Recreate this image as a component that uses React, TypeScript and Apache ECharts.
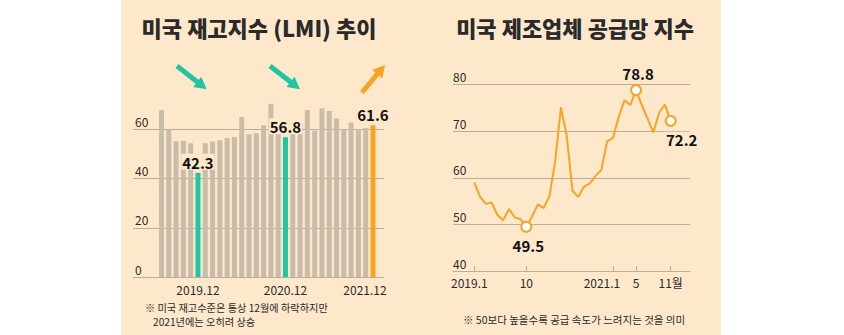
import React, { useEffect, useRef } from "react";
import * as echarts from "echarts";

// ---------- data ----------
const barMonths = [
  "2019.7", "2019.8", "2019.9", "2019.10", "2019.11", "2019.12",
  "2020.1", "2020.2", "2020.3", "2020.4", "2020.5", "2020.6",
  "2020.7", "2020.8", "2020.9", "2020.10", "2020.11", "2020.12",
  "2021.1", "2021.2", "2021.3", "2021.4", "2021.5", "2021.6",
  "2021.7", "2021.8", "2021.9", "2021.10", "2021.11", "2021.12",
];
const barValues = [
  67.7, 60.0, 55.1, 55.3, 54.3, 42.3,
  54.3, 55.0, 55.5, 56.4, 56.9, 65.0,
  58.0, 58.4, 61.6, 70.4, 62.0, 56.8,
  60.3, 62.4, 67.8, 59.4, 68.5, 67.4,
  64.4, 60.1, 62.7, 60.1, 60.5, 61.6,
];
const barHighlights: Record<number, string> = { 5: "teal", 17: "teal", 29: "orange" };
const barTickLabels = [5, 17, 29];

const lineMonths = [
  "2019.1", "2019.2", "2019.3", "2019.4", "2019.5", "2019.6", "2019.7", "2019.8", "2019.9", "2019.10", "2019.11", "2019.12",
  "2020.1", "2020.2", "2020.3", "2020.4", "2020.5", "2020.6", "2020.7", "2020.8", "2020.9", "2020.10", "2020.11", "2020.12",
  "2021.1", "2021.2", "2021.3", "2021.4", "2021.5", "2021.6", "2021.7", "2021.8", "2021.9", "2021.10", "2021.11",
];
const lineValues = [
  59.0, 55.9, 54.4, 54.7, 52.0, 50.9, 53.3, 51.5, 51.1, 49.5, 51.7, 54.3,
  53.5, 56.0, 63.5, 75.1, 69.0, 57.2, 55.9, 58.1, 58.8, 60.4, 61.7, 67.8,
  68.5, 73.1, 76.6, 75.6, 78.8, 75.6, 72.7, 69.7, 74.0, 75.7, 72.2,
];
const lineTickIdx = [0, 9, 24, 28, 34];
const lineTickText: Record<number, string> = { 0: "2019.1", 9: "10", 24: "2021.1", 28: "5", 34: "11월" };
const lineMarked: Record<number, string> = { 9: "bottom", 28: "top", 34: "right" };

// ---------- styles ----------
const BG = "#fee8cb";
const GRAY_BAR = "#c9bca9";
const GRID = "#b9ae9d";
const TEAL = "#1ec6a4";
const ORANGE = "#f7a521";
const TXT = "#2a2a2a";
const FONT = "'Noto Sans CJK KR', 'Noto Sans', sans-serif";

function arrow(x1: number, y1: number, x2: number, y2: number, color: string) {
  const dx = x2 - x1, dy = y2 - y1;
  const len = Math.sqrt(dx * dx + dy * dy);
  const ux = dx / len, uy = dy / len;
  const hl = 12, hw = 6.5;
  const bx = x2 - ux * hl, by = y2 - uy * hl;
  const nx = -uy, ny = ux;
  return [
    { type: "line", shape: { x1, y1, x2: bx + ux, y2: by + uy }, style: { stroke: color, lineWidth: 5 } },
    {
      type: "polygon",
      shape: { points: [[x2, y2], [bx + nx * hw, by + ny * hw], [bx - nx * hw, by - ny * hw]] },
      style: { fill: color },
    },
  ];
}

function txt(x: number, y: number, text: string, size: number, weight: any, align = "left") {
  return {
    type: "text",
    x,
    y,
    style: {
      text,
      fontSize: size,
      fontWeight: weight,
      fontFamily: FONT,
      fill: TXT,
      align,
      textAlign: align,
      verticalAlign: "middle",
      textVerticalAlign: "middle",
    },
  };
}

export default function App() {
  const ref = useRef<HTMLDivElement>(null);
  useEffect(() => {
    if (!ref.current) return;
    const chart = echarts.init(ref.current, undefined, { renderer: "svg" });

    const barData = barValues.map((v, i) => {
      const h = barHighlights[i];
      return {
        value: [i, v],
        itemStyle: { color: h === "teal" ? TEAL : h === "orange" ? ORANGE : GRAY_BAR },
        label: {
          show: !!h,
          position: "top",
          distance: 3,
          formatter: v.toFixed(1),
          fontSize: 15,
          fontWeight: "bold",
          fontFamily: FONT,
          color: "#111",
          backgroundColor: BG,
          padding: [1, 1, 0, 1],
        },
      };
    });

    const lineData = lineValues.map((v, i) => {
      const m = lineMarked[i];
      if (!m) return { value: [i, v], symbol: "none" };
      return {
        value: [i, v],
        symbol: "circle",
        symbolSize: 10,
        itemStyle: { color: "#fff", borderColor: ORANGE, borderWidth: 2 },
        label: {
          show: true,
          position: m === "right" ? "bottom" : m,
          offset: m === "right" ? [11, 0] : [2, 0],
          distance: m === "top" ? 3 : 5,
          formatter: v.toFixed(1),
          fontSize: 15,
          fontWeight: "bold",
          fontFamily: FONT,
          color: "#111",
          backgroundColor: BG,
          padding: [0, 4, 0, 4],
        },
      };
    });

    const option: any = {
      animation: false,
      backgroundColor: "#fff",
      textStyle: { fontFamily: FONT },
      graphic: [
        { type: "rect", z: -10, shape: { x: 121, y: 0, width: 600, height: 335 }, style: { fill: BG } },
        txt(259, 27, "미국 재고지수 (LMI) 추이", 22, 900, "center"),
        txt(575, 27, "미국 제조업체 공급망 지수", 22, 900, "center"),
        ...arrow(177, 66, 206.7, 89.3, TEAL),
        ...arrow(270, 66, 300, 89.3, TEAL),
        ...arrow(362, 92.5, 385, 65, ORANGE),
        txt(145, 307, "※ 미국 재고수준은 통상 12월에 하락하지만", 10.2, 400),
        txt(153, 321, "2021년에는 오히려 상승", 10.2, 400),
        txt(463, 319, "※ 50보다 높을수록 공급 속도가 느려지는 것을 의미", 10.5, 400),
      ],
      grid: [
        { left: 133, right: 460, top: 80, bottom: 58 },
        { left: 453, right: 154, top: 84.5, bottom: 64 },
      ],
      xAxis: [
        {
          gridIndex: 0,
          type: "value",
          min: -3.91,
          max: 30.51,
          axisLine: { show: false },
          axisTick: { show: false },
          splitLine: { show: false },
          axisLabel: {
            customValues: barTickLabels,
            margin: 6,
            fontSize: 12,
            color: TXT,
            formatter: (v: number) => (v === 29 ? "{s|" + barMonths[v] + "}" : barMonths[v]),
            rich: { s: { padding: [0, 16, 0, 0], fontSize: 12, color: TXT, fontFamily: FONT } },
          },
        },
        {
          gridIndex: 1,
          type: "value",
          min: -3.69,
          max: 37.34,
          axisLine: { show: true, onZero: false, lineStyle: { color: GRID, width: 1 } },
          axisTick: { show: true, inside: true, length: 5, customValues: lineTickIdx, lineStyle: { color: GRID } },
          splitLine: { show: false },
          axisLabel: {
            customValues: lineTickIdx,
            margin: 5,
            fontSize: 12,
            color: TXT,
            formatter: (v: number) => {
              const t = lineTickText[v] || "";
              if (v === 0) return "{a|" + t + "}";
              if (v === 24) return "{b|" + t + "}";
              return t;
            },
            rich: {
              a: { padding: [0, 10, 0, 0], fontSize: 12, color: TXT, fontFamily: FONT },
              b: { padding: [0, 22, 0, 0], fontSize: 12, color: TXT, fontFamily: FONT },
            },
          },
        },
      ],
      yAxis: [
        {
          gridIndex: 0,
          type: "value",
          min: 0,
          max: 80,
          interval: 20,
          axisLine: { show: false },
          axisTick: { show: false },
          splitLine: { show: true, showMaxLine: false, lineStyle: { color: GRID, width: 1 } },
          axisLabel: {
            inside: true,
            margin: 2,
            verticalAlign: "bottom",
            padding: [0, 0, 2, 0],
            fontSize: 12,
            color: TXT,
            showMaxLabel: false,
          },
        },
        {
          gridIndex: 1,
          type: "value",
          min: 40,
          max: 80,
          interval: 10,
          axisLine: { show: false },
          axisTick: { show: false },
          splitLine: { show: true, showMinLine: false, lineStyle: { color: GRID, width: 1 } },
          axisLabel: {
            inside: true,
            margin: 0,
            verticalAlign: "bottom",
            padding: [0, 0, 2, 0],
            fontSize: 12,
            color: TXT,
          },
        },
      ],
      series: [
        {
          type: "bar",
          xAxisIndex: 0,
          yAxisIndex: 0,
          barWidth: 5,
          data: barData,
        },
        {
          type: "line",
          xAxisIndex: 1,
          yAxisIndex: 1,
          symbol: "none",
          showSymbol: true,
          lineStyle: { color: ORANGE, width: 2 },
          itemStyle: { color: ORANGE },
          data: lineData,
          z: 3,
        },
      ],
    };
    chart.setOption(option);
    return () => chart.dispose();
  }, []);
  return <div ref={ref} style={{ position: "fixed", left: 0, top: 0, width: 844, height: 335 }} />;
}
